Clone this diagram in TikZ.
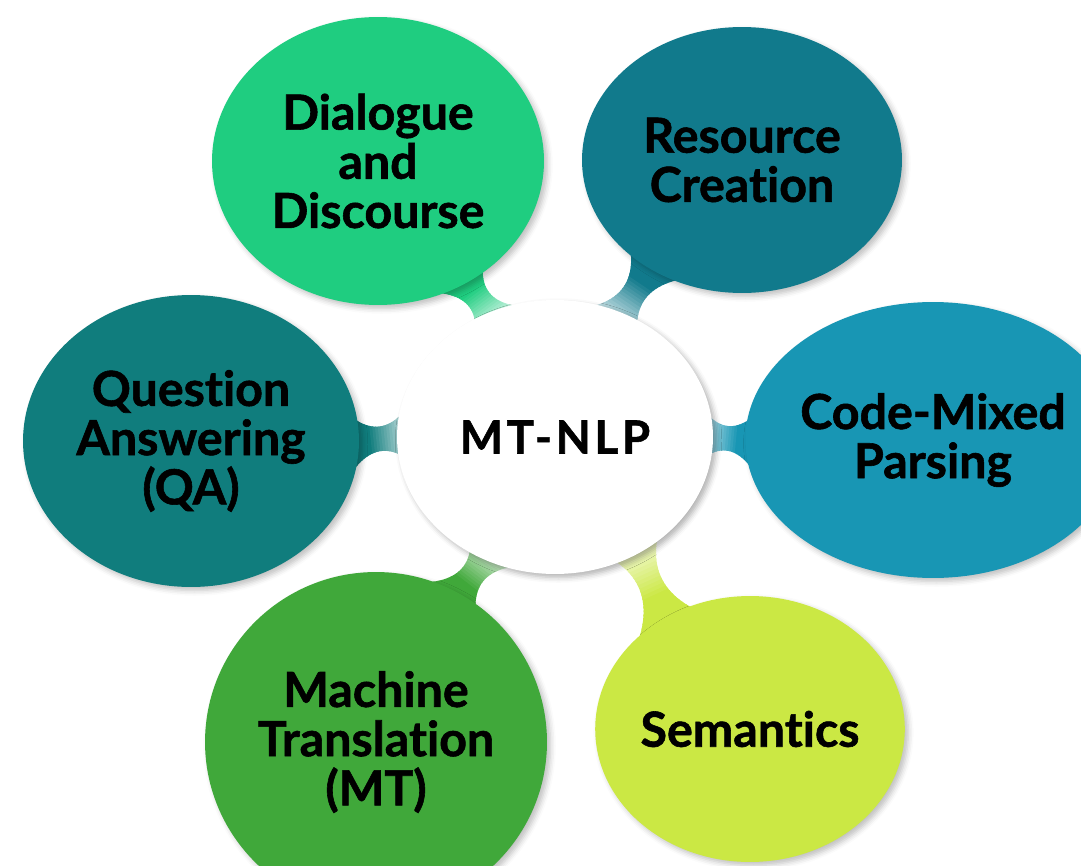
\documentclass[tikz,border=0pt]{standalone}
\usepackage{fontspec}
\setmainfont{Lato}[Ligatures={NoCommon}, BoldFeatures={FakeBold=1.2}]
\usetikzlibrary{shapes.geometric,calc,backgrounds,shadows.blur}
\definecolor{cdia}{RGB}{31,205,128}
\definecolor{cres}{RGB}{17,122,140}
\definecolor{cqa}{RGB}{16,125,125}
\definecolor{ccmp}{RGB}{24,150,180}
\definecolor{cmt}{RGB}{64,168,58}
\definecolor{csem}{RGB}{203,232,68}
\tikzset{
  bubble/.style={ellipse, inner sep=0pt, text=black, align=center,
    font=\fontsize{27.5}{28}\selectfont\bfseries,
    blur shadow={shadow xshift=2pt, shadow yshift=-2pt, shadow blur radius=3pt, shadow opacity=25}},
  hub/.style={ellipse, inner sep=0pt, fill=white, text=black,
    font=\fontsize{26}{28}\selectfont\bfseries\addfontfeatures{LetterSpace=8},
    blur shadow={shadow xshift=2pt, shadow yshift=-2pt, shadow blur radius=3pt, shadow opacity=30}},
}
% tapered connector, coloured at the outer bubble, fading to white at the hub
\newcommand\stemlink[3]{% #1 outer anchor, #2 hub anchor, #3 colour
  \coordinate (sA) at ($(#1)!-14pt!(#2)$);
  \coordinate (sB) at ($(#2)!-12pt!(#1)$);
  \coordinate (sF) at ($(sA)!2!(sB)$);
  \foreach \i in {0,...,29}{%
    \pgfmathsetmacro\ta{\i/30}%
    \pgfmathsetmacro\tb{min(1,(\i+1.4)/30)}%
    \pgfmathsetmacro\wa{7+70*(\ta-0.55)^2}%
    \pgfmathsetmacro\wb{7+70*(\tb-0.55)^2}%
    \pgfmathsetmacro\pc{max(0,min(100,100*(1.0-\ta)/0.6))}%
    \fill[#3!\pc!white]
      ($($(sA)!\ta!(sB)$)!\wa pt!90:(sF)$) -- ($($(sA)!\tb!(sB)$)!\wb pt!90:(sF)$)
      -- ($($(sA)!\tb!(sB)$)!\wb pt!-90:(sF)$) -- ($($(sA)!\ta!(sB)$)!\wa pt!-90:(sF)$) -- cycle;
  }%
}
\begin{document}
\begin{tikzpicture}[x=0.02cm,y=-0.02cm]
\clip (0,0) rectangle (1081,865);
\node[hub, minimum width=6.32cm, minimum height=5.48cm] (c) at (555,437) {MT-NLP};
\node[bubble, fill=cdia, minimum width=6.64cm, minimum height=5.76cm] (dia) at (378,161) {Dialogue\\and\\Discourse};
\node[bubble, fill=cres, minimum width=6.4cm, minimum height=5.32cm] (res) at (742,160) {Resource\\Creation};
\node[bubble, fill=cqa, minimum width=6.72cm, minimum height=5.84cm] (qa) at (191,441) {Question\\Answering\\(QA)};
\node[bubble, fill=ccmp, minimum width=6.32cm, minimum height=5.52cm] (cmp) at (933,440) {Code-Mixed\\Parsing};
\node[bubble, fill=cmt, minimum width=6.84cm, minimum height=6.8cm] (mt) at (376,742) {Machine\\Translation\\(MT)};
\node[bubble, fill=csem, minimum width=5.88cm, minimum height=5.32cm] (sem) at (750,729) {Semantics};
\begin{pgfonlayer}{background}
\stemlink{dia.-54}{c.118}{cdia}
\stemlink{res.-130}{c.62}{cres}
\stemlink{qa.0}{c.180}{cqa}
\stemlink{cmp.180}{c.0}{ccmp}
\stemlink{mt.61}{c.240}{cmt}
\stemlink{sem.127}{c.-55}{csem}
\end{pgfonlayer}
\end{tikzpicture}
\end{document}
